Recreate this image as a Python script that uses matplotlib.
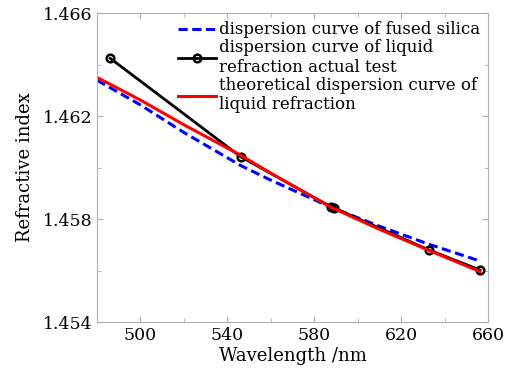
"""Refractive index vs wavelength: fused silica, measured liquid, theoretical liquid."""

import matplotlib
matplotlib.use("Agg")
import matplotlib.pyplot as plt

# fused silica (blue dashed)
silica_wl = [480, 500, 520, 546.1, 560, 587.6, 610, 632.8, 656.3]
silica_n = [1.46339, 1.46243, 1.46136, 1.46008, 1.45951, 1.45846, 1.45772, 1.45702, 1.45637]

# measured liquid refraction (black with markers)
test_wl = [486.1, 546.1, 587.6, 589.3, 632.8, 656.3]
test_n = [1.46424, 1.46042, 1.45848, 1.45842, 1.45680, 1.45602]

# theoretical liquid refraction (red)
theory_wl = [480, 500, 520, 546.1, 560, 587.6, 610, 632.8, 656.3]
theory_n = [1.46350, 1.46262, 1.46166, 1.46048, 1.45978, 1.45846, 1.45760, 1.45678, 1.45596]

x_ticks = [500, 540, 580, 620, 660]
x_minor = [520, 560, 600, 640]
y_ticks = [1.454, 1.458, 1.462, 1.466]
y_minor = [1.456, 1.460, 1.464]

plt.rcParams["font.family"] = ["DejaVu Serif"]

fig = plt.figure(figsize=(5.23, 3.72), dpi=100)
ax = fig.add_axes([0.1855, 0.1344, 0.7475, 0.8306])

ax.plot(silica_wl, silica_n, "--", color="#0000ff", lw=2.2, dashes=(3, 1.5),
        label="dispersion curve of fused silica")
ax.plot(test_wl, test_n, "-", color="black", lw=2, marker="o", ms=5.5,
        mfc="none", mew=1.8, label="dispersion curve of liquid\nrefraction actual test")
ax.plot(theory_wl, theory_n, "-", color="#ff0000", lw=2.2,
        label="theoretical dispersion curve of\nliquid refraction")

ax.set_xlim(480, 660)
ax.set_ylim(1.454, 1.466)
ax.set_xticks(x_ticks)
ax.set_xticks(x_minor, minor=True)
ax.set_yticks(y_ticks)
ax.set_yticks(y_minor, minor=True)
ax.set_yticklabels([f"{v:.3f}" for v in y_ticks])

ax.tick_params(which="both", direction="in", top=True, right=True,
               color="#b0b0b0", labelsize=12.5)
ax.tick_params(which="major", length=4)
ax.tick_params(which="minor", length=3)
for s in ax.spines.values():
    s.set_color("#b0b0b0")
    s.set_linewidth(0.8)

ax.set_xlabel("Wavelength /nm", fontsize=13, labelpad=2)
ax.set_ylabel("Refractive index", fontsize=13, labelpad=6)

ax.legend(loc="upper right", frameon=False, fontsize=12, handlelength=2.3,
          handletextpad=0.15, borderaxespad=0.2, labelspacing=0.05,
          borderpad=0.3)

fig.savefig("out.png", dpi=100)
